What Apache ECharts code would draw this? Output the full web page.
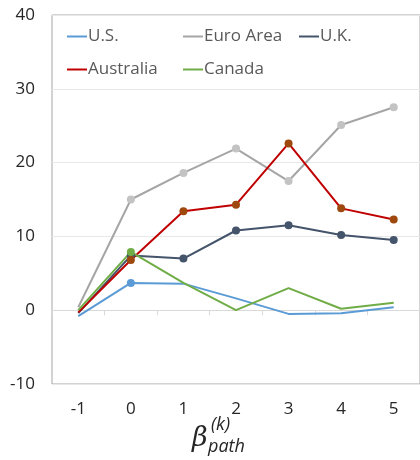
<!DOCTYPE html>
<html>
<head>
<meta charset="utf-8">
<script src="https://cdn.jsdelivr.net/npm/echarts@6/dist/echarts.min.js"></script>
<style>
  html, body { margin: 0; padding: 0; background: #fff; }
  #chart { width: 420px; height: 460px; }
</style>
</head>
<body>
<div id="chart"></div>
<script>
// Horizon k on the x axis
const categories = ['-1', '0', '1', '2', '3', '4', '5'];
const yTicks = [-10, 0, 10, 20, 30, 40];

// Estimated coefficients by economy
const usValues = [-0.8, 3.7, 3.6, 1.6, -0.5, -0.4, 0.4];
const euroValues = [0.4, 15.0, 18.6, 21.9, 17.5, 25.1, 27.5];
const ukValues = [-0.4, 7.4, 7.0, 10.8, 11.5, 10.2, 9.5];
const australiaValues = [-0.3, 6.8, 13.4, 14.3, 22.6, 13.8, 12.3];
const canadaValues = [0.0, 7.9, 3.7, 0.0, 3.0, 0.2, 1.0];

const seriesDefs = [
  { name: 'U.S.', values: usValues, line: '#5B9BD5', marker: '#5B9BD5', marked: [1] },
  { name: 'Euro Area', values: euroValues, line: '#A5A5A5', marker: '#C3C3C3', marked: [1, 2, 3, 4, 5, 6] },
  { name: 'U.K.', values: ukValues, line: '#44546A', marker: '#44546A', marked: [1, 2, 3, 4, 5, 6] },
  { name: 'Australia', values: australiaValues, line: '#C00000', marker: '#9E480E', marked: [1, 2, 3, 4, 5, 6] },
  { name: 'Canada', values: canadaValues, line: '#70AD47', marker: '#70AD47', marked: [1] }
];

const chart = echarts.init(document.getElementById('chart'), null, { renderer: 'canvas' });

const series = seriesDefs.map(d => ({
  name: d.name,
  type: 'line',
  xAxisIndex: 0,
  yAxisIndex: 0,
  data: d.values.map((v, i) => d.marked.includes(i)
    ? { value: v }
    : { value: v, symbol: 'none' }),
  symbol: 'circle',
  symbolSize: 8,
  showAllSymbol: true,
  lineStyle: { color: d.line, width: 2 },
  itemStyle: { color: d.marker, borderWidth: 0 },
  emphasis: { disabled: true },
  animation: false
}));

const option = {
  animation: false,
  color: seriesDefs.map(d => d.line),
  grid: {
    left: 52, top: 15, right: -2, bottom: 76,
    show: true, borderColor: '#a6a6a6', borderWidth: 1, backgroundColor: 'transparent'
  },
  legend: {
    left: 67, top: 20, width: 370, padding: 0,
    orient: 'horizontal',
    icon: 'rect', itemWidth: 20, itemHeight: 2, itemGap: 0,
    textStyle: {
      fontFamily: 'Open Sans', fontSize: 17, color: '#595959',
      width: 95, lineHeight: 33, padding: [0, 0, 0, -4]
    },
    data: seriesDefs.map(d => ({ name: d.name, itemStyle: { color: d.line } }))
  },
  xAxis: [
    {
      type: 'category', data: categories, boundaryGap: true,
      axisLine: { onZero: true, lineStyle: { color: '#d9d9d9', width: 1 } },
      axisTick: { show: true, alignWithLabel: false, length: 5, lineStyle: { color: '#d9d9d9' } },
      axisLabel: { show: false },
      splitLine: { show: false }
    },
    {
      type: 'category', data: categories, boundaryGap: true, position: 'bottom',
      axisLine: { show: false, onZero: false },
      axisTick: { show: false },
      axisLabel: { show: true, margin: 17, fontFamily: 'Open Sans', fontSize: 17, color: '#262626' },
      splitLine: { show: false }
    }
  ],
  yAxis: {
    type: 'value', min: yTicks[0], max: yTicks[yTicks.length - 1], interval: 10,
    axisLine: { show: false }, axisTick: { show: false },
    axisLabel: { margin: 17, fontFamily: 'Open Sans', fontSize: 17, color: '#262626' },
    splitLine: { show: true, lineStyle: { color: '#e8e8e8', width: 1 } }
  },
  graphic: [
    { type: 'text', left: 192, top: 425, style: { text: 'β', font: 'italic 27px "DejaVu Serif"', fill: '#262626' } },
    { type: 'text', left: 211, top: 416, style: { text: '(k)', font: 'italic 18px "Open Sans"', fill: '#262626' } },
    { type: 'text', left: 208, top: 438, style: { text: 'path', font: 'italic 18px "Open Sans"', fill: '#262626' } }
  ],
  series: series
};

chart.setOption(option);
</script>
</body>
</html>
